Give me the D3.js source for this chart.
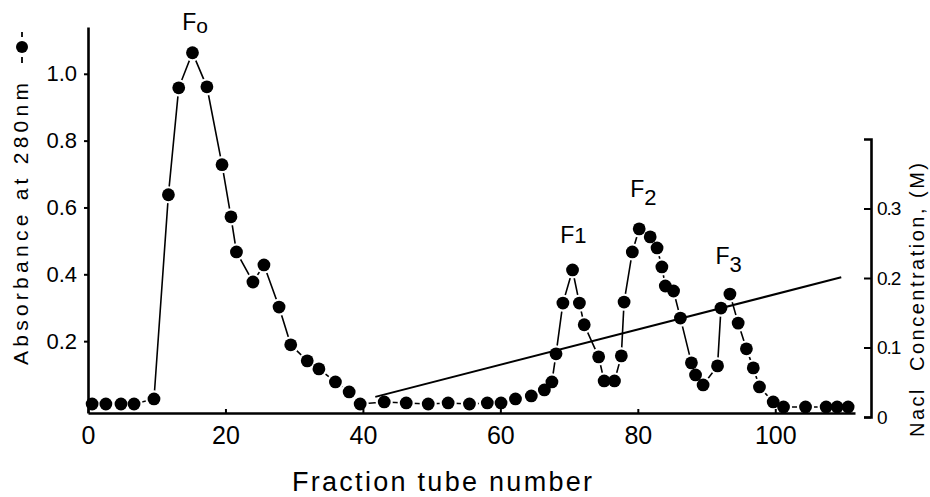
<!DOCTYPE html>
<html>
<head>
<meta charset="utf-8">
<script src="https://cdn.jsdelivr.net/npm/d3@7"></script>
<style>
    body { margin: 0; background: #fff; }
    svg { display: block; }
</style>
</head>
<body>
<svg id="chart"></svg>
<script>
// Date
const fraction = [0.6, 2.6, 4.8, 6.7, 9.6, 11.7, 13.2, 15.2, 17.3, 19.5, 20.8, 21.6, 24.0, 25.6, 27.8, 29.5,
    31.9, 33.6, 36.0, 38.0, 39.6, 43.1, 46.3, 49.5, 52.4, 55.5, 58.1, 60.1, 62.2, 64.5, 66.4, 67.5,
    68.1, 69.1, 70.5, 71.5, 72.2, 74.3, 75.1, 76.6, 77.6, 78.0, 79.2, 80.2, 81.8, 82.8, 83.5, 84.0,
    85.2, 86.2, 87.8, 88.4, 89.5, 91.6, 92.1, 93.4, 94.6, 95.8, 96.8, 97.7, 99.7, 101.2, 104.4,
    107.4, 109.0, 110.6];
const absorbance = [0.012, 0.012, 0.012, 0.012, 0.027, 0.638, 0.958, 1.063, 0.961, 0.728, 0.572, 0.467, 0.377, 0.428, 0.302, 0.189,
    0.141, 0.117, 0.078, 0.048, 0.012, 0.018, 0.015, 0.012, 0.015, 0.012, 0.015, 0.015, 0.027, 0.036, 0.054, 0.078,
    0.162, 0.314, 0.413, 0.314, 0.249, 0.153, 0.081, 0.081, 0.156, 0.317, 0.467, 0.536, 0.512, 0.479, 0.422, 0.365,
    0.350, 0.269, 0.135, 0.099, 0.069, 0.126, 0.299, 0.341, 0.254, 0.177, 0.120, 0.063, 0.018, 0.003, 0.003,
    0.003, 0.003, 0.003];

// Gradient NaCl (capete)
const naclFraction = [41.8, 109.6];
const naclConc = [0.029, 0.201];

// Axe
const xTicks = [0, 20, 40, 60, 80, 100];
const absTicks = [0.2, 0.4, 0.6, 0.8, 1.0];
const absTickLabels = ["0.2", "0.4", "0.6", "0.8", "1.0"];
const naclTicks = [0, 0.1, 0.2, 0.3];
const naclTickLabels = ["0", "0.1", "0.2", "0.3"];

// Etichete fractiuni
const peakSub = ["o", "1", "2", "3"];
const peakLabelX = [13.7, 68.7, 78.9, 91.3];
const peakLabelY = [1.13, 0.494, 0.632, 0.431];
const peakSubShift = [3, 0, 8, 8];

const width = 930, height = 497;
const numFont = "'Liberation Sans', Arial, sans-serif";

const svg = d3.select("#chart")
    .attr("width", width)
    .attr("height", height);

const x = d3.scaleLinear().domain([0, 111.6]).range([88, 855]);
const yAbs = d3.scaleLinear().domain([-0.015, 1.14]).range([413, 27]);
const yNacl = d3.scaleLinear().domain([0, 0.4]).range([417, 139]);

const points = fraction.map((f, i) => ({ f: f, a: absorbance[i] }));

// Linia de absorbanta
const line = d3.line()
    .x(d => x(d.f))
    .y(d => yAbs(d.a));

svg.append("path")
    .datum(points)
    .attr("fill", "none")
    .attr("stroke", "#000")
    .attr("stroke-width", 1.6)
    .attr("d", line);

// halo alb -> golurile dintre linie si puncte
svg.append("g").selectAll("circle")
    .data(points)
    .join("circle")
    .attr("cx", d => x(d.f))
    .attr("cy", d => yAbs(d.a))
    .attr("r", 8.6)
    .attr("fill", "#fff");

// Gradientul de NaCl
svg.append("path")
    .datum(naclFraction.map((f, i) => [f, naclConc[i]]))
    .attr("fill", "none")
    .attr("stroke", "#000")
    .attr("stroke-width", 2)
    .attr("d", d3.line().x(d => x(d[0])).y(d => yNacl(d[1])));

// Axa X
const gx = svg.append("g")
    .attr("transform", `translate(0,413)`)
    .call(d3.axisBottom(x).tickValues(xTicks).tickSizeInner(-4).tickSizeOuter(0).tickPadding(13));

// Axa Y stanga
const gy = svg.append("g")
    .attr("transform", `translate(88,0)`)
    .call(d3.axisLeft(yAbs).tickValues(absTicks)
        .tickFormat((d, i) => absTickLabels[i])
        .tickSizeInner(4).tickSizeOuter(0).tickPadding(7));

// Axa Y dreapta
const gr = svg.append("g")
    .attr("transform", `translate(871,0)`)
    .call(d3.axisRight(yNacl).tickValues(naclTicks)
        .tickFormat((d, i) => naclTickLabels[i])
        .tickSizeInner(-7).tickSizeOuter(-7).tickPadding(6));

[gx, gy, gr].forEach(g => {
    g.select(".domain").attr("stroke-width", 2.6);
    g.selectAll(".tick line").attr("stroke-width", 2);
});
gx.selectAll("text").attr("font-family", numFont).attr("font-size", 25);
gy.selectAll("text").attr("font-family", numFont).attr("font-size", 22);
gr.selectAll("text").attr("font-family", numFont).attr("font-size", 19).attr("letter-spacing", "-1");

// Punctele
svg.append("g").selectAll("circle")
    .data(points)
    .join("circle")
    .attr("cx", d => x(d.f))
    .attr("cy", d => yAbs(d.a))
    .attr("r", 6.4)
    .attr("fill", "#000");

// Etichete F0..F3
peakSub.forEach((s, i) => {
    const t = svg.append("text")
        .attr("x", x(peakLabelX[i]))
        .attr("y", yAbs(peakLabelY[i]))
        .style("font-family", numFont)
        .style("font-size", "23px")
        .text("F");
    t.append("tspan")
        .attr("dy", peakSubShift[i])
        .style("font-size", i === 0 ? "21px" : "22px")
        .text(s);
});

// Titlu axa X
svg.append("text")
    .attr("x", 292)
    .attr("y", 491)
    .attr("textLength", 300)
    .attr("lengthAdjust", "spacing")
    .style("font-family", numFont)
    .style("font-size", "27px")
    .text("Fraction tube number");

// Titlu axa Y stanga + simbol -●-
const gl = svg.append("g").attr("transform", "translate(28,365) rotate(-90)");
gl.append("text")
    .attr("textLength", 282)
    .attr("lengthAdjust", "spacing")
    .style("font-family", numFont)
    .style("font-size", "21px")
    .text("Absorbance at 280nm");
gl.append("line").attr("x1", 302).attr("x2", 308).attr("y1", -6).attr("y2", -6)
    .attr("stroke", "#000").attr("stroke-width", 1.8);
gl.append("line").attr("x1", 328).attr("x2", 333).attr("y1", -6).attr("y2", -6)
    .attr("stroke", "#000").attr("stroke-width", 1.8);
gl.append("circle").attr("cx", 318).attr("cy", -6).attr("r", 6).attr("fill", "#000");

// Titlu axa Y dreapta
svg.append("text")
    .attr("transform", "translate(924,437) rotate(-90)")
    .attr("textLength", 274)
    .attr("lengthAdjust", "spacing")
    .style("white-space", "pre")
    .style("font-family", numFont)
    .style("font-size", "20px")
    .text("Nacl  Concentration, (M)");
</script>
</body>
</html>
